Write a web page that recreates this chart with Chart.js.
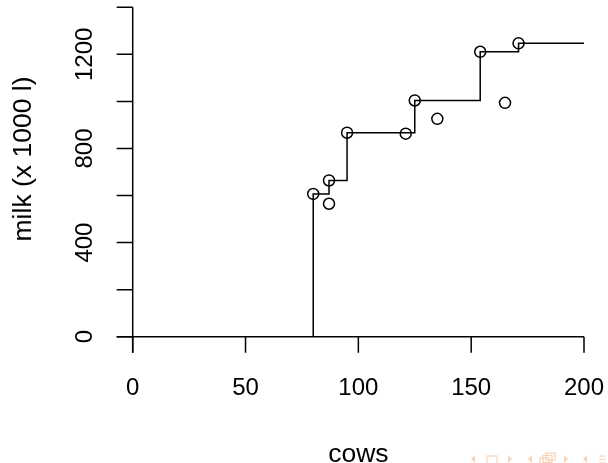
<!DOCTYPE html>
<html>
<head>
<meta charset="utf-8">
<script src="https://cdn.jsdelivr.net/npm/chart.js@4/dist/chart.umd.min.js"></script>
<style>
  html, body { margin: 0; padding: 0; background: #fff; }
  #wrap { width: 608px; height: 463px; position: relative; }
</style>
</head>
<body>
<div id="wrap"><canvas id="chart"></canvas></div>
<script>
// observed farms
const cows = [80, 87, 87, 95, 121, 125, 135, 154, 165, 171];
const milk = [607, 664, 565, 867, 863, 1004, 926, 1211, 994, 1247];

// staircase frontier
const frontierCows = [80, 80, 87, 95, 125, 154, 171, 200];
const frontierMilk = [0, 607, 664, 867, 1004, 1211, 1247, 1247];

// axes
const xTicks = [0, 50, 100, 150, 200];
const yTicks = [0, 200, 400, 600, 800, 1000, 1200, 1400];
const yTickLabels = [0, 400, 800, 1200];
const xTitle = "cows";
const yTitle = "milk (x 1000 l)";

const FONT = '24px "Liberation Sans", Arial, sans-serif';
const TITLE_FONT = '26.5px "Liberation Sans", Arial, sans-serif';
const TICK = 16;

// R-style axes drawn off the chart's own scales
const rAxes = {
  id: "rAxes",
  afterDraw(chart) {
    const ctx = chart.ctx;
    const xs = chart.scales.x, ys = chart.scales.y;
    const x0 = xs.getPixelForValue(0);
    const y0 = ys.getPixelForValue(0);

    ctx.save();
    ctx.strokeStyle = "#000";
    ctx.lineWidth = 1.5;
    ctx.fillStyle = "#000";
    ctx.font = FONT;

    // x axis
    ctx.beginPath();
    ctx.moveTo(x0 - TICK, y0);
    ctx.lineTo(xs.getPixelForValue(xTicks[xTicks.length - 1]), y0);
    xTicks.forEach(v => {
      const px = xs.getPixelForValue(v);
      ctx.moveTo(px, y0);
      ctx.lineTo(px, y0 + TICK);
    });
    ctx.stroke();

    ctx.textAlign = "center";
    ctx.textBaseline = "middle";
    xTicks.forEach(v => ctx.fillText(String(v), xs.getPixelForValue(v), y0 + 52));

    // y axis
    ctx.beginPath();
    ctx.moveTo(x0, y0 + TICK);
    ctx.lineTo(x0, ys.getPixelForValue(yTicks[yTicks.length - 1]));
    yTicks.forEach(v => {
      const py = ys.getPixelForValue(v);
      ctx.moveTo(x0, py);
      ctx.lineTo(x0 - TICK, py);
    });
    ctx.stroke();

    yTickLabels.forEach(v => {
      ctx.save();
      ctx.translate(85, ys.getPixelForValue(v));
      ctx.rotate(-Math.PI / 2);
      ctx.fillText(String(v), 0, 0);
      ctx.restore();
    });

    // titles
    ctx.font = TITLE_FONT;
    ctx.fillText(xTitle, (chart.chartArea.left + chart.chartArea.right) / 2, 455);
    ctx.save();
    ctx.translate(24, 159);
    ctx.rotate(-Math.PI / 2);
    ctx.fillText(yTitle, 0, 0);
    ctx.restore();

    // beamer navigation symbols
    ctx.fillStyle = "#f9d3b3";
    ctx.strokeStyle = "#f9d3b3";
    ctx.lineWidth = 1.2;
    const tri = (x, left) => {
      ctx.beginPath();
      if (left) { ctx.moveTo(x + 4, 455); ctx.lineTo(x, 459); ctx.lineTo(x + 4, 463); }
      else { ctx.moveTo(x, 455); ctx.lineTo(x + 4, 459); ctx.lineTo(x, 463); }
      ctx.closePath();
      ctx.fill();
    };
    tri(471, true); tri(508, false);
    tri(528, true); tri(564, false);
    tri(583, true);
    ctx.strokeRect(487, 456, 10, 8);
    ctx.strokeRect(540, 458, 9, 7);
    ctx.strokeRect(543, 455.5, 9, 7);
    ctx.strokeRect(546, 453, 9, 7);
    ctx.beginPath();
    [456, 459.5, 463].forEach(y => { ctx.moveTo(599, y); ctx.lineTo(606, y); });
    ctx.stroke();
    ctx.restore();
  }
};

new Chart(document.getElementById("chart"), {
  type: "scatter",
  data: {
    datasets: [
      {
        data: cows.map((c, i) => ({ x: c, y: milk[i] })),
        showLine: false,
        pointStyle: "circle",
        pointRadius: 5.5,
        pointHoverRadius: 5.5,
        pointBorderColor: "#000",
        pointBackgroundColor: "rgba(0,0,0,0)",
        pointBorderWidth: 1.5,
        clip: false
      },
      {
        type: "line",
        data: frontierCows.map((c, i) => ({ x: c, y: frontierMilk[i] })),
        stepped: "before",
        borderColor: "#000",
        borderWidth: 1.5,
        pointRadius: 0,
        fill: false,
        clip: false
      }
    ]
  },
  options: {
    responsive: true,
    maintainAspectRatio: false,
    animation: false,
    layout: { padding: { left: 132.7, right: 24, top: 7.3, bottom: 126.3 } },
    scales: {
      x: { type: "linear", min: 0, max: 200, display: false },
      y: { type: "linear", min: 0, max: 1400, display: false }
    },
    plugins: { legend: { display: false }, tooltip: { enabled: false } }
  },
  plugins: [rAxes]
});
</script>
</body>
</html>
